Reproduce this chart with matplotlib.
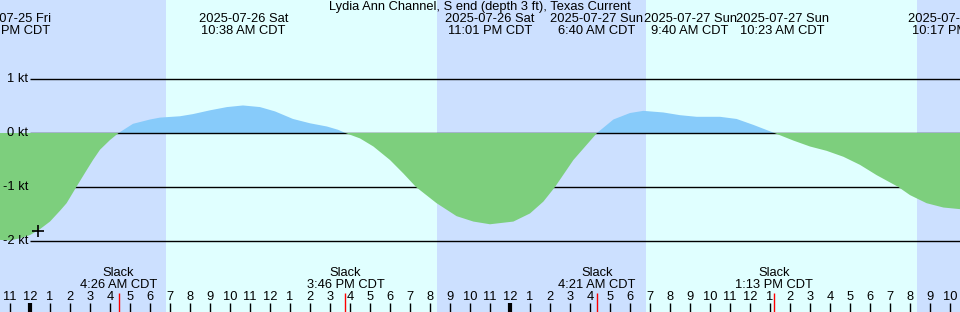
import matplotlib
matplotlib.use('Agg')
import matplotlib.pyplot as plt

plt.rcParams['font.family'] = ['Liberation Sans', 'DejaVu Sans']

# time axis in hours after midnight 2025-07-26 (CDT), current in knots
hours = [-1.5, -1.0, -0.5, 0.0, 0.5, 1.0, 1.5, 1.83, 2.3, 2.83, 3.15, 3.5,
         4.0, 4.43,
         5.15, 6.0, 6.5, 7.5, 8.15, 9.0, 9.85, 10.65, 11.5, 12.25, 13.15,
         14.0, 14.85, 15.4, 15.77,
         16.5, 17.17, 18.0, 18.67, 19.3, 20.33, 21.33, 22.17, 23.0, 24.17,
         25.0, 25.67, 26.25, 27.17, 27.83, 28.35,
         29.17, 30.0, 30.67, 31.67, 32.5, 33.33, 34.5, 35.33, 36.17, 37.22,
         38.17, 39.0, 39.83, 40.67, 41.5, 42.33, 43.42, 44.0, 44.83, 45.67,
         46.5]
knots = [-1.98, -1.99, -1.95, -1.89, -1.78, -1.64, -1.44, -1.30, -1.01,
         -0.69, -0.5, -0.31, -0.13, 0.0,
         0.17, 0.25, 0.285, 0.31, 0.35, 0.42, 0.48, 0.51, 0.48, 0.40, 0.26,
         0.18, 0.12, 0.06, 0.0,
         -0.1, -0.25, -0.5, -0.75, -1.0, -1.3, -1.54, -1.64, -1.69, -1.64,
         -1.49, -1.27, -1.0, -0.5, -0.22, 0.0,
         0.25, 0.37, 0.41, 0.38, 0.33, 0.30, 0.30, 0.26, 0.15, 0.0,
         -0.14, -0.25, -0.33, -0.44, -0.59, -0.78, -1.0, -1.15, -1.30, -1.38,
         -1.41]

night_spans = [(-1.5, 6.8), (20.35, 30.8), (44.35, 46.5)]

top_pos = [-1.1, 10.68, 23.0, 28.35, 33.0, 37.6, 46.25]
top_dates = ['2025-07-25 Fri', '2025-07-26 Sat', '2025-07-26 Sat',
             '2025-07-27 Sun', '2025-07-27 Sun', '2025-07-27 Sun',
             '2025-07-27 Sun']
top_times = ['10:48 PM CDT', '10:38 AM CDT', '11:01 PM CDT', '6:40 AM CDT',
             '9:40 AM CDT', '10:23 AM CDT', '10:17 PM CDT']

slack_hours = [4.43, 15.77, 28.35, 37.22]
slack_times = ['4:26 AM CDT', '3:46 PM CDT', '4:21 AM CDT', '1:13 PM CDT']

kt_levels = [1, 0, -1, -2]
tick_hours = list(range(-1, 47))
tick_labels = [str((h % 12) or 12) for h in tick_hours]
midnights = [0, 24]

now_h, now_v = 0.4, -1.81

x0, x1 = -1.5, 46.5
FS = 9.3
# pixel rows -> knots: 54 px per knot, zero at row 133 of 312
y_top = 133 / 54
y_bot = (133 - 312) / 54
def row(px):
    return (133 - px) / 54

fig = plt.figure(figsize=(9.6, 3.12), dpi=100)
ax = fig.add_axes([0, 0, 1, 1])
ax.set_xlim(x0, x1)
ax.set_ylim(y_bot, y_top)
ax.axis('off')

ax.axvspan(x0, x1, color='#e0ffff', lw=0, zorder=0)
for a, b in night_spans:
    ax.axvspan(a, b, color='#cce0ff', lw=0, zorder=0.5)

for k in kt_levels:
    ax.hlines(k, 0, x1, color='black', lw=1.0, zorder=2)
    ax.text(-0.1, k, '%d kt' % k, ha='right', va='center', fontsize=FS, zorder=4)

ax.fill_between(hours, knots, 0, where=[v >= 0 for v in knots],
                interpolate=True, color='#87cbfa', lw=0, zorder=1.5)
ax.fill_between(hours, knots, 0, where=[v <= 0 for v in knots],
                interpolate=True, color='#7dcf7d', lw=0, zorder=3)

ax.plot([now_h], [now_v], marker='+', color='black', ms=9, mew=1.2, zorder=5)

ax.text((x0 + x1) / 2, row(7), 'Lydia Ann Channel, S end (depth 3 ft), Texas Current',
        ha='center', va='center', fontsize=FS)
for p, d, t in zip(top_pos, top_dates, top_times):
    ax.text(p, row(19.5), d, ha='center', va='center', fontsize=FS)
    ax.text(p, row(31.5), t, ha='center', va='center', fontsize=FS)

for p, t in zip(slack_hours, slack_times):
    ax.text(p, row(273.5), 'Slack', ha='center', va='center', fontsize=FS)
    ax.text(p, row(285), t, ha='center', va='center', fontsize=FS)
    ax.vlines(p, row(312), row(293), color='red', lw=1.0, zorder=4)

for h, lab in zip(tick_hours, tick_labels):
    ax.text(h, row(297), lab, ha='center', va='center', fontsize=FS)
    w = 3.0 if h in midnights else 1.0
    ax.vlines(h, row(312), row(303), color='black', lw=w, zorder=4)

fig.savefig('out.png', dpi=100)
